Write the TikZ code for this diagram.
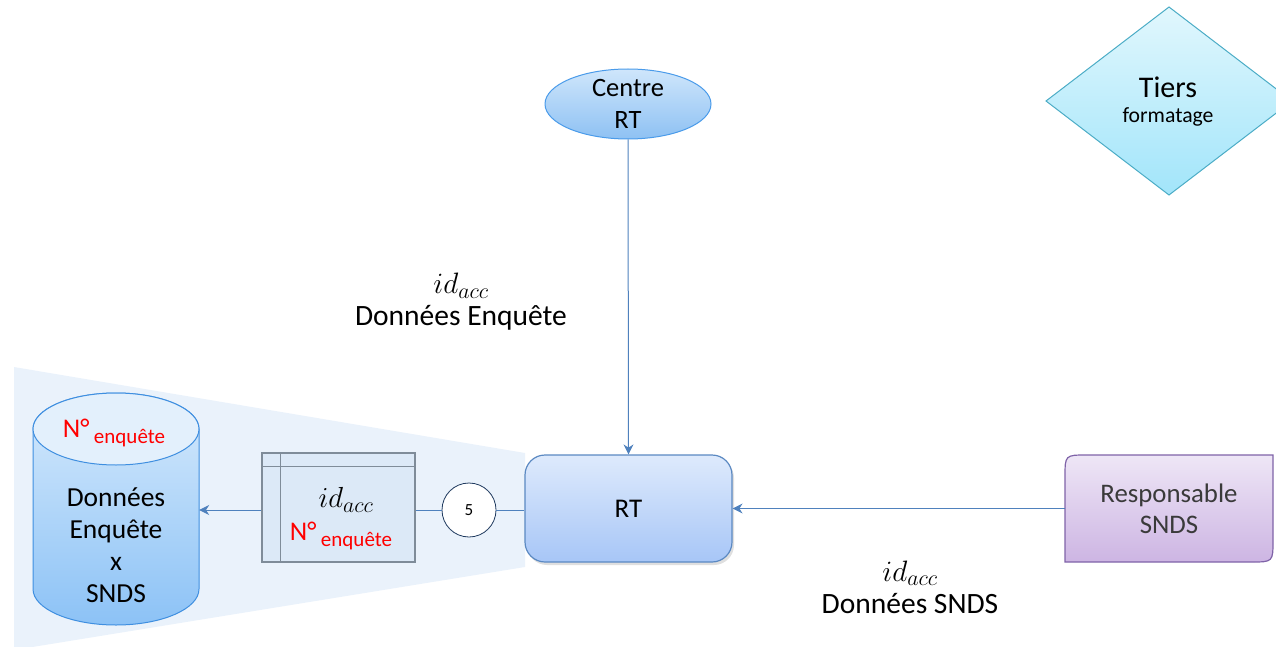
\documentclass[tikz,border=0pt]{standalone}
\usepackage{fix-cm}
\usepackage{fontspec}
\setmainfont{Carlito}
\usetikzlibrary{arrows.meta,shadows,calc,shapes.geometric}
\definecolor{bgblue}{HTML}{EAF2FB}
\definecolor{conncol}{HTML}{4F81BD}
\definecolor{cylstroke}{HTML}{3F8FE0}
\definecolor{cyltop}{HTML}{E3F0FC}
\definecolor{cylA}{HTML}{D6EAFC}
\definecolor{cylB}{HTML}{8CC2F6}
\definecolor{tblfill}{HTML}{DCE9F7}
\definecolor{tblstroke}{HTML}{7F8C99}
\definecolor{navy}{HTML}{1F3A5F}
\definecolor{rtA}{HTML}{DEEAFC}
\definecolor{rtB}{HTML}{A7C6F7}
\definecolor{rtstroke}{HTML}{5B89C2}
\definecolor{ctA}{HTML}{CFE6FB}
\definecolor{ctB}{HTML}{8EC1F3}
\definecolor{ctstroke}{HTML}{4A9BEA}
\definecolor{rsA}{HTML}{EEE6F6}
\definecolor{rsB}{HTML}{CDB5E3}
\definecolor{rsstroke}{HTML}{7F63A8}
\definecolor{rstext}{HTML}{3A3A3A}
\definecolor{tiA}{HTML}{E1F7FD}
\definecolor{tiB}{HTML}{A2E5FA}
\definecolor{tistroke}{HTML}{4BACC6}
\definecolor{redtxt}{HTML}{FF0000}
\newcommand\fsz[2]{\fontsize{#1}{#2}\selectfont}
\newcommand\numenq[2]{{\color{redtxt}\fsz{#1}{#1}N°\,\raisebox{-6pt}{\fsz{#2}{#2}enquête}}}
\newcommand\idacc{$id_{\mbox{\fsz{22}{22}$acc$}}$}
\tikzset{
  conn/.style={draw=conncol, line width=1pt},
  tip/.style={-{Stealth[length=10pt,width=10pt]}},
  lbl/.style={align=center, font=\fsz{29.5}{32}, inner sep=0},
}
\begin{document}
\begin{tikzpicture}[x=1pt,y=-1pt]
\useasboundingbox (0,0) rectangle (1276,647);
% background trapezoid
\fill[bgblue] (14,367) -- (525,453) -- (525,567) -- (14,650) -- cycle;
% cylinder
\node[inner sep=0, minimum width=166, minimum height=232] (db) at (116,510) {};
\path[draw=cylstroke, line width=1pt, top color=cylA, bottom color=cylB]
  (33,429) -- (33,589) arc[start angle=180, end angle=0, x radius=83, y radius=36]
  -- (199,429) arc[start angle=0, end angle=-180, x radius=83, y radius=36] -- cycle;
\draw[cylstroke, line width=1pt, fill=cyltop] (116,429) ellipse[x radius=83, y radius=36];
\node (dbkey) at (114,433) {\numenq{27}{21}};
\node[lbl, font=\fsz{27.5}{32}] (dbtext) at (116,545) {Données\\Enquête\\x\\SNDS};
% table
\node[draw=tblstroke, fill=tblfill, line width=1.2pt, inner sep=0, minimum width=153, minimum height=109] (tbl) at (338.5,507.5) {};
\draw[tblstroke, line width=1.2pt] ($(tbl.north west)+(0,14)$) -- ($(tbl.north east)+(0,14)$);
\draw[tblstroke, line width=1.2pt] ($(tbl.north west)+(19,0)$) -- ($(tbl.south west)+(19,0)$);
\node[font=\fsz{29}{32}] (tblid) at (346,500) {\idacc};
\node (tblkey) at (341,536) {\numenq{27}{21}};
% circle 5
\node[circle, draw=navy, fill=white, line width=0.8pt, minimum size=54, inner sep=0] (c5) at (469,510) {\fsz{17}{20}5};
% RT box
\node[draw=rtstroke, line width=1.2pt, rounded corners=20, top color=rtA, bottom color=rtB,
  minimum width=207, minimum height=107, font=\fsz{27}{30},
  drop shadow={opacity=0.25, shadow xshift=2pt, shadow yshift=-3pt}] (rt) at (628.5,508.5) {RT};
% Centre RT
\node[ellipse, draw=ctstroke, line width=1pt, top color=ctA, bottom color=ctB,
  minimum width=166, minimum height=70, inner sep=0, align=center, font=\fsz{26.5}{32}] (centre) at (628,104) {Centre\\RT};
% Responsable SNDS
\node[inner sep=0, minimum width=208, minimum height=107] (resp) at (1169,508.5) {};
\path[draw=rsstroke, line width=1.2pt, top color=rsA, bottom color=rsB]
  (1087,455) -- (1273,455) -- (1273,540) .. controls (1273,562) .. (1251,562)
  -- (1065,562) -- (1065,477) .. controls (1065,455) .. (1087,455) -- cycle;
\node[lbl, text=rstext, font=\fsz{26.8}{31}] (resptext) at (1169,509) {Responsable\\SNDS};
% Tiers formatage
\path[draw=tistroke, line width=1pt, top color=tiA, bottom color=tiB]
  (1169,7) -- (1292,101) -- (1169,195) -- (1046,101) -- cycle;
\node[inner sep=0, font=\fsz{30}{32}] (tiers) at (1168,87) {Tiers};
\node[inner sep=0, font=\fsz{21.7}{22}] (format) at (1168,117) {formatage};
% connectors
\draw[conn, tip] (tbl.west |- db.east) -- (db.east);
\draw[conn] (tbl.east |- c5.west) -- (c5.west);
\draw[conn] (c5.east) -- (rt.west |- c5.east);
\draw[conn, tip] (centre.south) -- (rt.north);
\draw[conn, tip] (resp.west) -- (rt.east);
% labels
\node[lbl] (lab1) at (461,302) {\idacc\\Données Enquête};
\node[lbl] (lab2) at (910,587) {\idacc\\Données SNDS};
\end{tikzpicture}
\end{document}
